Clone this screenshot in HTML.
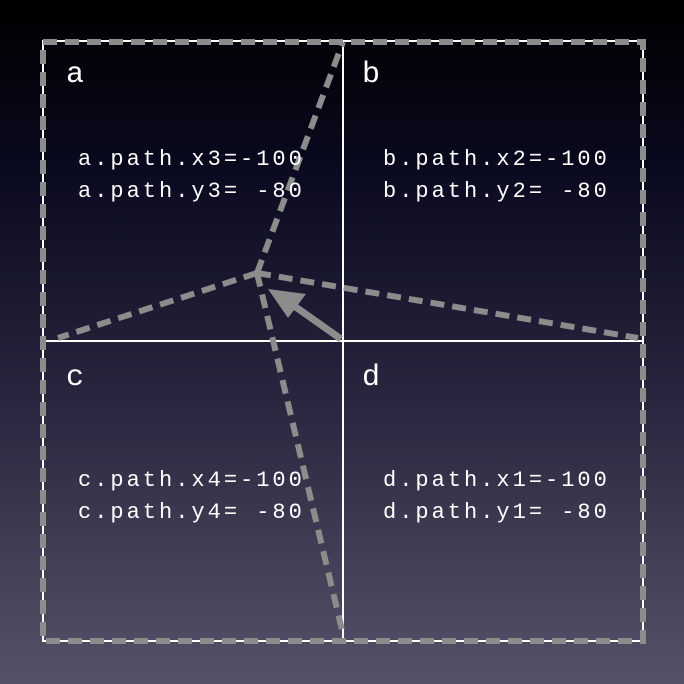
<!DOCTYPE html>
<html><head><meta charset="utf-8"><style>
html,body{margin:0;padding:0}
body{width:684px;height:684px;background:linear-gradient(#000 0%,#0a0a20 25%,#2a2840 60%,#555168 100%);overflow:hidden}
svg{display:block}
text{font-family:"Liberation Mono","DejaVu Sans Mono",monospace;fill:#fff}
</style></head><body>
<svg width="684" height="684">
<g stroke="#fff" stroke-width="2" fill="none">
<rect x="43" y="41" width="600" height="600"/>
<line x1="343" y1="41" x2="343" y2="641"/>
<line x1="43" y1="341" x2="643" y2="341"/>
</g>
<g stroke="#8c8c8c" stroke-width="6" stroke-dasharray="14 8" fill="none">
<rect x="43" y="42" width="600" height="599"/>
<line x1="257" y1="273" x2="343" y2="42"/>
<line x1="257" y1="273" x2="58" y2="338"/>
<line x1="257" y1="273" x2="638" y2="338"/>
<line x1="257" y1="273" x2="342" y2="630"/>
</g>
<g fill="#8c8c8c" stroke="#8c8c8c">
<line x1="341" y1="339" x2="290" y2="303" stroke-width="7"/>
<polygon points="268,289 306,294 288,318" stroke="none"/>
</g>
<g font-size="30">
<text x="66" y="82">a</text>
<text x="362" y="82">b</text>
<text x="66" y="385">c</text>
<text x="362" y="385">d</text>
</g>
<g font-size="22" letter-spacing="3">
<text x="78" y="165">a.path.x3=-100</text>
<text x="78" y="197">a.path.y3= -80</text>
<text x="383" y="165">b.path.x2=-100</text>
<text x="383" y="197">b.path.y2= -80</text>
<text x="78" y="486">c.path.x4=-100</text>
<text x="78" y="518">c.path.y4= -80</text>
<text x="383" y="486">d.path.x1=-100</text>
<text x="383" y="518">d.path.y1= -80</text>
</g>
</svg>
</body></html>
